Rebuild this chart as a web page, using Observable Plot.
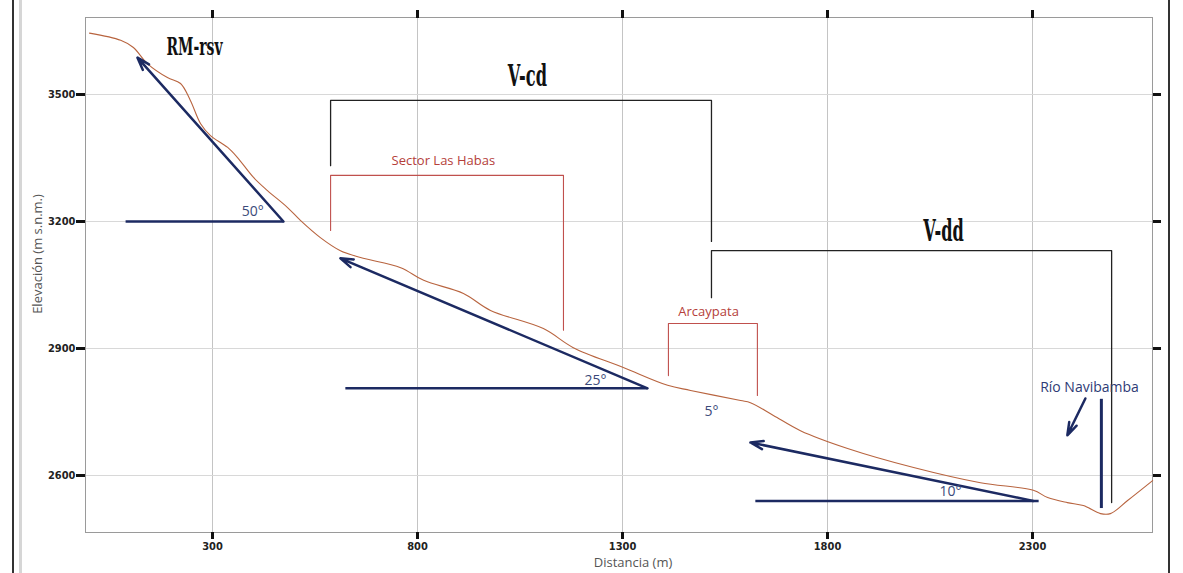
<!DOCTYPE html>
<html>
<head>
<meta charset="utf-8">
<script src="https://cdn.jsdelivr.net/npm/d3@7"></script>
<script src="https://cdn.jsdelivr.net/npm/@observablehq/plot@0.6"></script>
<style>
html, body { margin: 0; padding: 0; background: #fff; overflow: hidden; }
#wrap { position: relative; width: 1183px; height: 573px; }
.pageline { position: absolute; top: 0; height: 573px; }
</style>
</head>
<body>
<div id="wrap">
  <div class="pageline" style="left:12px;width:2px;background:#333;"></div>
  <div class="pageline" style="left:19px;width:3px;background:#d6d6d6;"></div>
  <div class="pageline" style="left:1168px;width:2px;background:#333;"></div>
</div>
<script>
// ---- Data ----
const xTicks = [300, 800, 1300, 1800, 2300];
const yTicks = [2600, 2900, 3200, 3500];

// Topographic profile (distance m, elevation m s.n.m.)
const profileDistance = [0, 76, 107, 141, 190, 222, 246, 271, 295, 337, 361, 400, 434, 483, 515, 563, 612, 661, 759, 815, 912, 978, 1107, 1180, 1302, 1410, 1466, 1588, 1612, 1668, 1734, 1849, 2010, 2173, 2302, 2337, 2385, 2424, 2466, 2490, 2532, 2593];
const profileElevation = [3645, 3628, 3611, 3573, 3540, 3526, 3486, 3431, 3403, 3375, 3351, 3304, 3273, 3233, 3202, 3162, 3131, 3115, 3091, 3061, 3030, 2990, 2947, 2902, 2855, 2813, 2801, 2777, 2772, 2742, 2706, 2664, 2619, 2583, 2565, 2548, 2536, 2529, 2510, 2510, 2541, 2588];

// Unit brackets (black)
const vcdX = [588, 588, 1517, 1517];
const vcdY = [3332, 3486, 3486, 3153];
const vddX = [1517, 1517, 2493, 2493];
const vddY = [3020, 3131, 3131, 2536];
// Sector brackets (red)
const habasX = [588, 588, 1156, 1156];
const habasY = [3179, 3309, 3309, 2943];
const arcayX = [1412, 1412, 1629, 1629];
const arcayY = [2836, 2959, 2959, 2789];

// Slope triangles: horizontal baselines and arrows
const baseX1 = [88, 624, 1624];
const baseX2 = [473, 1361, 2315];
const baseY = [3200, 2806, 2540];
const arrowX1 = [473, 1361, 2302, 2429];
const arrowY1 = [3200, 2806, 2540, 2782];
const arrowX2 = [117, 612, 1612, 2385];
const arrowY2 = [3587, 3113, 2678, 2695];
// River marker
const riverX = [2468];
const riverY1 = [2780];
const riverY2 = [2522];

// Labels
const unitLabels = ["V-cd", "V-dd"];
const unitX = [1068, 2083];
const unitY = [3543, 3176];
const rmLabel = ["RM-rsv"];
const rmX = [256];
const rmY = [3613];
const sectorLabels = ["Sector Las Habas", "Arcaypata"];
const sectorX = [863, 1510];
const sectorY = [3344, 2987];
const angleLabels = ["50°", "25°", "5°", "10°"];
const angleX = [398, 1234, 1517, 2100];
const angleY = [3224, 2824, 2751, 2562];
const riverLabel = ["Río Navibamba"];
const riverLX = [2439];
const riverLY = [2808];

// ---- Build tables ----
const profile = profileDistance.map((d, i) => ({d, e: profileElevation[i]}));
const toPath = (name, xs, ys) => xs.map((x, i) => ({name, x, y: ys[i]}));
const blackBrackets = [...toPath("V-cd", vcdX, vcdY), ...toPath("V-dd", vddX, vddY)];
const redBrackets = [...toPath("Habas", habasX, habasY), ...toPath("Arcaypata", arcayX, arcayY)];
const bases = baseX1.map((x1, i) => ({x1, x2: baseX2[i], y: baseY[i]}));
const arrows = arrowX1.map((x1, i) => ({x1, y1: arrowY1[i], x2: arrowX2[i], y2: arrowY2[i]}));
const river = riverX.map((x, i) => ({x, y1: riverY1[i], y2: riverY2[i]}));
const lab = (names, xs, ys) => names.map((t, i) => ({t, x: xs[i], y: ys[i]}));

const navy = "#1c2a62";
const red = "#c0504d";
const narrow = "'Liberation Sans Narrow', 'DejaVu Sans Condensed', sans-serif";
const serifC = "'DejaVu Serif Condensed', 'DejaVu Serif', serif";
const human = "'Open Sans', 'Noto Sans', sans-serif";

const plot = Plot.plot({
  width: 1183,
  height: 573,
  marginLeft: 85,
  marginRight: 31,
  marginTop: 17,
  marginBottom: 41,
  style: {background: "transparent", overflow: "visible"},
  x: {domain: [-9.8, 2592.7]},
  y: {domain: [2465.4, 3681.9]},
  marks: [
    Plot.gridX(xTicks, {stroke: "#c4c4c4", strokeOpacity: 1}),
    Plot.gridY(yTicks, {stroke: "#d8d8d8", strokeOpacity: 1}),
    Plot.frame({stroke: "#9a9a9a"}),
    Plot.axisX({anchor: "bottom", ticks: xTicks, tickSize: 7, tickPadding: 3, strokeWidth: 3, stroke: "#111",
      tickFormat: d => String(d), fontSize: 11, fontWeight: "bold", fontFamily: narrow, fill: "#222", label: null}),
    Plot.axisX({anchor: "top", ticks: xTicks, tickSize: 8, strokeWidth: 3, stroke: "#111", tickFormat: () => "", label: null}),
    Plot.axisY({anchor: "left", ticks: yTicks, tickSize: 9, tickPadding: 1, strokeWidth: 3, stroke: "#111",
      tickFormat: d => String(d), fontSize: 11, fontWeight: "bold", fontFamily: narrow, fill: "#222", label: null}),
    Plot.axisY({anchor: "right", ticks: yTicks, tickSize: 8, strokeWidth: 3, stroke: "#111", tickFormat: () => "", label: null}),
    Plot.text(["Elevación (m s.n.m.)"], {frameAnchor: "left", textAnchor: "middle", dx: -48, dy: -21, rotate: -90, fontSize: 13, fill: "#555", fontFamily: human}),
    Plot.text(["Distancia (m)"], {frameAnchor: "bottom", textAnchor: "middle", dx: 14, dy: 30, lineAnchor: "middle", fontSize: 13, fill: "#555", fontFamily: human}),

    // Brackets
    Plot.line(blackBrackets, {x: "x", y: "y", z: "name", stroke: "#222", strokeWidth: 1.3, curve: "linear"}),
    Plot.line(redBrackets, {x: "x", y: "y", z: "name", stroke: red, strokeWidth: 1.1, curve: "linear"}),

    // Profile
    Plot.line(profile, {x: "d", y: "e", stroke: "#b8643f", strokeWidth: 1.1, curve: "catmull-rom"}),

    // Slope triangles
    Plot.link(bases, {x1: "x1", x2: "x2", y1: "y", y2: "y", stroke: navy, strokeWidth: 2.5}),
    Plot.arrow(arrows, {x1: "x1", y1: "y1", x2: "x2", y2: "y2", stroke: navy, strokeWidth: 2.5, headLength: 8, headAngle: 36}),
    Plot.ruleX(river, {x: "x", y1: "y1", y2: "y2", stroke: navy, strokeWidth: 3}),

    // Labels
    Plot.text(lab(unitLabels, unitX, unitY), {x: "x", y: "y", text: "t", fontSize: 29, fontWeight: "bold", fontFamily: serifC, fill: "#111"}),
    Plot.text(lab(rmLabel, rmX, rmY), {x: "x", y: "y", text: "t", fontSize: 25, fontWeight: "bold", fontFamily: serifC, fill: "#111"}),
    Plot.text(lab(sectorLabels, sectorX, sectorY), {x: "x", y: "y", text: "t", fontSize: 13, fontFamily: human, fill: "#b5403a"}),
    Plot.text(lab(angleLabels, angleX, angleY), {x: "x", y: "y", text: "t", fontSize: 14, fontFamily: human, fill: "#3b4a7a"}),
    Plot.text(lab(riverLabel, riverLX, riverLY), {x: "x", y: "y", text: "t", fontSize: 14, fontFamily: human, fill: "#2e3b75"})
  ]
});

// Condense the bold unit titles horizontally
const titleSet = new Set([...unitLabels, ...rmLabel]);
d3.select(plot).selectAll("text").filter(function() { return titleSet.has(this.textContent); })
  .attr("transform", function() { return (this.getAttribute("transform") || "") + " scale(0.62,1)"; });

plot.style.position = "absolute";
plot.style.left = "0px";
plot.style.top = "0px";
document.getElementById("wrap").appendChild(plot);
</script>
</body>
</html>
